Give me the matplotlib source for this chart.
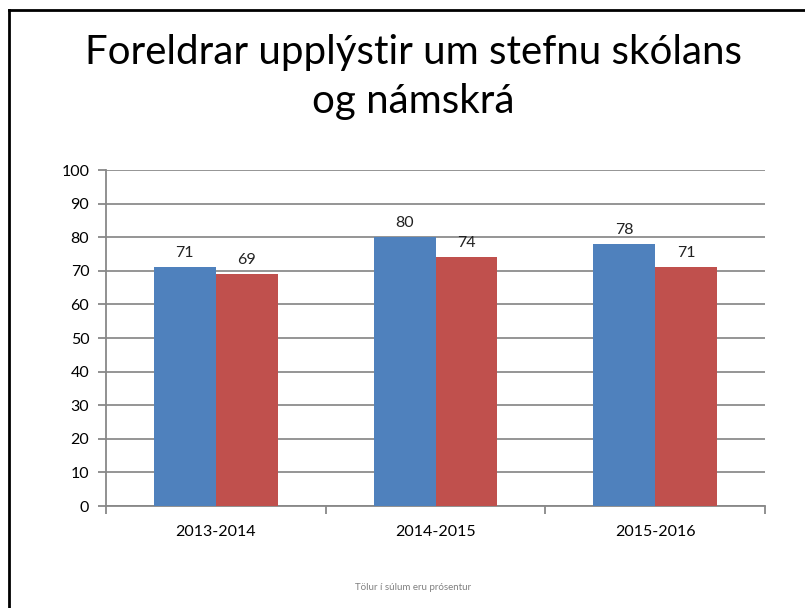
import matplotlib
matplotlib.use("Agg")
import matplotlib.pyplot as plt
import numpy as np
from matplotlib.lines import Line2D

categories = ["2013-2014", "2014-2015", "2015-2016"]
series_a = [71, 80, 78]
series_b = [69, 74, 71]
yticks = [0, 10, 20, 30, 40, 50, 60, 70, 80, 90, 100]
title = "Foreldrar upplýstir um stefnu skólans\nog námskrá"
footer = "Tölur í súlum eru prósentur"

plt.rcParams['font.family'] = ['Lato', 'DejaVu Sans']

fig = plt.figure(figsize=(8.05, 6.08), dpi=100)
ax = fig.add_axes([106/805, 1-506/608, (765-106)/805, (506-170)/608])

x = np.arange(len(categories))
w = 0.282
b1 = ax.bar(x - w/2, series_a, w, color="#4F81BD", zorder=3)
b2 = ax.bar(x + w/2, series_b, w, color="#C0504D", zorder=3)
for bars, vals in ((b1, series_a), (b2, series_b)):
    for r, v in zip(bars, vals):
        ax.text(r.get_x() + r.get_width()/2, v + 2.2, str(v), ha="center",
                va="bottom", fontsize=11.5, color="#222222")

ax.set_xlim(-0.5, 2.5)
ax.set_ylim(0, 100)
ax.set_yticks(yticks)
ax.set_yticklabels([str(t) for t in yticks], fontsize=11.5)
ax.set_xticks(x)
ax.set_xticklabels(categories, fontsize=11.5)
ax.tick_params(axis='x', length=0, pad=14)
ax.set_xticks([-0.5, 0.5, 1.5, 2.5], minor=True)
ax.tick_params(axis='x', which='minor', length=6, color="#888888", width=1.3, direction='out')
ax.tick_params(axis='y', length=6, color="#888888", width=1.3, direction='out', pad=6)
ax.yaxis.grid(True, color="#8c8c8c", linewidth=1.3, zorder=0)
ax.set_axisbelow(True)
for s in ("top", "right"):
    ax.spines[s].set_visible(False)
for s in ("left", "bottom"):
    ax.spines[s].set_color("#888888")
    ax.spines[s].set_linewidth(1.3)

fig.text(413/805, 1-77/608, title, ha="center", va="center", fontsize=29,
         linespacing=1.42, color="#000000")
fig.text(413/805, 1-587/608, footer, ha="center", va="center", fontsize=7,
         color="#808080")

fig.add_artist(Line2D([9/805, 1], [1-10/608, 1-10/608], color="black", linewidth=2, transform=fig.transFigure))
fig.add_artist(Line2D([9/805, 9/805], [0, 1-10/608], color="black", linewidth=2, transform=fig.transFigure))

fig.savefig("out.png", dpi=100)
